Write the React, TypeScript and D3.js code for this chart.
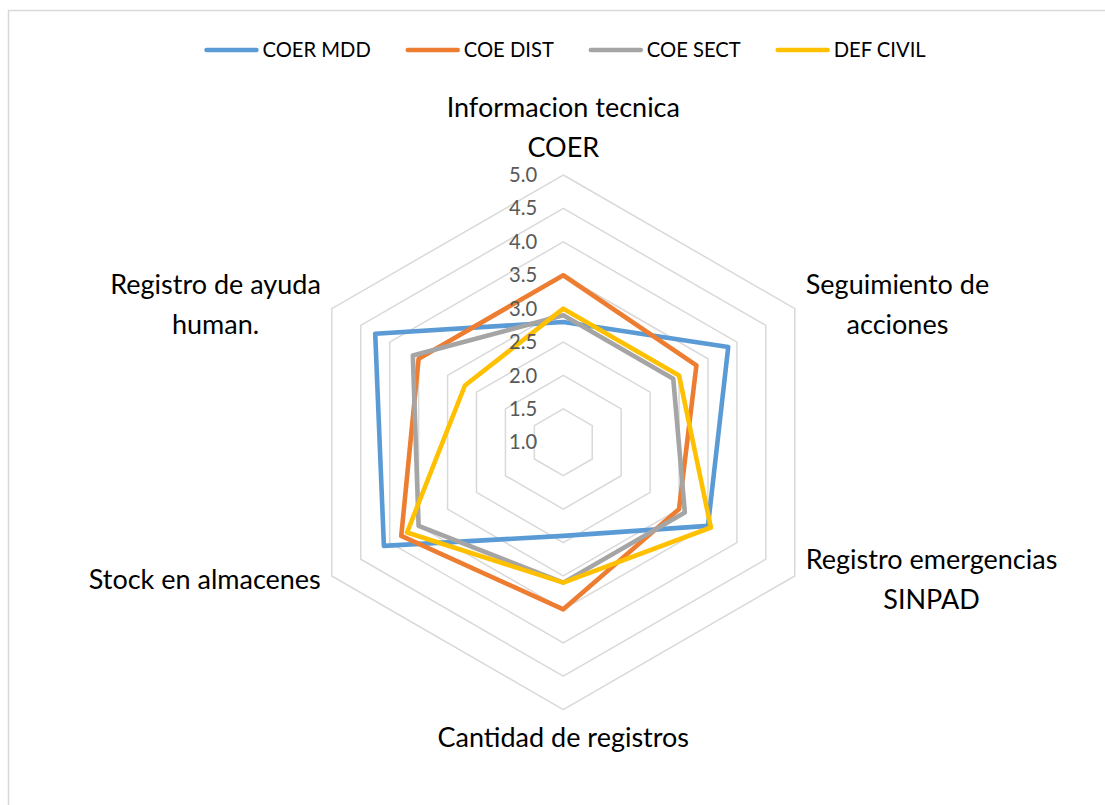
import React from "react";
import * as d3 from "d3";

const categories: string[][] = [
  ["Informacion tecnica", "COER"],
  ["Seguimiento de", "acciones"],
  ["Registro emergencias", "SINPAD"],
  ["Cantidad de registros"],
  ["Stock en almacenes"],
  ["Registro de ayuda", "human."],
];

const seriesNames = ["COER MDD", "COE DIST", "COE SECT", "DEF CIVIL"];
const seriesColors = ["#5B9BD5", "#ED7D31", "#A5A5A5", "#FFC000"];

const coerMdd = [2.8, 3.85, 3.5, 2.4, 4.1, 4.25];
const coeDist = [3.5, 3.3, 3.0, 3.5, 3.8, 3.5];
const coeSect = [2.9, 2.9, 3.1, 3.1, 3.5, 3.6];
const defCivil = [3.0, 3.0, 3.55, 3.1, 3.7, 2.7];

const seriesValues = [coerMdd, coeDist, coeSect, defCivil];

const tickValues = [1.0, 1.5, 2.0, 2.5, 3.0, 3.5, 4.0, 4.5, 5.0];

const W = 1105;
const H = 805;
const CX = 563.3;
const CY = 442.3;
const R = 267.3;
const FONT = "Lato, 'Open Sans', sans-serif";
const CAT_SIZE = 27;
const LEG_SIZE = 20.2;
const TICK_SIZE = 20.2;
const LINE_H = 40;

let measureCtx: CanvasRenderingContext2D | null = null;
function textWidth(t: string, size: number): number {
  if (!measureCtx) {
    const c = document.createElement("canvas");
    measureCtx = c.getContext("2d");
  }
  if (!measureCtx) return t.length * size * 0.5;
  measureCtx.font = `${size}px Lato`;
  return measureCtx.measureText(t).width;
}

export default function App() {
  const n = categories.length;
  const rScale = d3.scaleLinear().domain([1, 5]).range([0, R]);
  const angle = (i: number) => -Math.PI / 2 + (i * 2 * Math.PI) / n;

  const radial = d3
    .lineRadial<number>()
    .angle((_, i) => (i * 2 * Math.PI) / n)
    .radius((d) => rScale(d))
    .curve(d3.curveLinearClosed);

  const gridLevels = tickValues.filter((v) => v > 1);

  // legend layout
  const lineLen = 54;
  const textGap = 4;
  const itemGap = 35;
  const widths = seriesNames.map((s) => textWidth(s, LEG_SIZE));
  const total =
    widths.reduce((a, b) => a + b, 0) + seriesNames.length * (lineLen + textGap) + (seriesNames.length - 1) * itemGap;
  let lx = CX + 2 - total / 2;
  const legendY = 50;
  const legendItems = seriesNames.map((s, i) => {
    const x0 = lx;
    lx += lineLen + textGap + widths[i] + itemGap;
    return { name: s, color: seriesColors[i], x: x0 };
  });

  const fmt = d3.format(".1f");

  return (
    <svg
      width={W}
      height={H}
      style={{ position: "absolute", left: 0, top: 0, background: "#fff" }}
      fontFamily={FONT}
    >
      <rect x={0} y={0} width={W} height={H} fill="#fff" />
      <rect x={8.5} y={10.5} width={1110} height={810} fill="none" stroke="#D9D9D9" strokeWidth={1.5} />

      {/* legend */}
      {legendItems.map((it) => (
        <g key={it.name}>
          <line
            x1={it.x + 2}
            x2={it.x + lineLen - 2}
            y1={legendY}
            y2={legendY}
            stroke={it.color}
            strokeWidth={4.5}
            strokeLinecap="round"
          />
          <text x={it.x + lineLen + textGap} y={legendY + 7} fontSize={LEG_SIZE} fill="#000">
            {it.name}
          </text>
        </g>
      ))}

      <g transform={`translate(${CX},${CY})`}>
        {gridLevels.map((v) => (
          <path
            key={v}
            d={radial(new Array(n).fill(v)) || ""}
            fill="none"
            stroke="#D9D9D9"
            strokeWidth={1.5}
          />
        ))}
        {seriesValues.map((vals, si) => (
          <path
            key={si}
            d={radial(vals) || ""}
            fill="none"
            stroke={seriesColors[si]}
            strokeWidth={4.6}
            strokeLinejoin="round"
          />
        ))}
        {tickValues.map((v) => (
          <text
            key={v}
            x={-26}
            y={-rScale(v)}
            dy="0.35em"
            textAnchor="end"
            fontSize={TICK_SIZE}
            fill="#595959"
          >
            {fmt(v)}
          </text>
        ))}
      </g>

      {/* category labels */}
      {categories.map((lines, i) => {
        const a = angle(i);
        const vx = CX + R * Math.cos(a);
        const vy = CY + R * Math.sin(a);
        const cos = Math.cos(a);
        const sin = Math.sin(a);
        if (Math.abs(cos) < 0.01) {
          if (sin < 0) {
            const lastBase = vy - 18;
            return (
              <text key={i} textAnchor="middle" fontSize={CAT_SIZE} fill="#000">
                {lines.map((l, j) => (
                  <tspan key={j} x={vx} y={lastBase - (lines.length - 1 - j) * LINE_H}>
                    {l}
                  </tspan>
                ))}
              </text>
            );
          }
          const firstBase = vy + 37;
          return (
            <text key={i} textAnchor="middle" fontSize={CAT_SIZE} fill="#000">
              {lines.map((l, j) => (
                <tspan key={j} x={vx} y={firstBase + j * LINE_H}>
                  {l}
                </tspan>
              ))}
            </text>
          );
        }
        const blockW = Math.max(...lines.map((l) => textWidth(l, CAT_SIZE)));
        const centerY = vy + sin * 8;
        const firstBase =
          lines.length === 1 ? centerY + 9.15 : centerY - 18.3 / 2 - ((lines.length - 1) * LINE_H) / 2 + 18.3;
        const midX = cos > 0 ? vx + 11 + blockW / 2 : vx - 11 - blockW / 2;
        return (
          <text key={i} textAnchor="middle" fontSize={CAT_SIZE} fill="#000">
            {lines.map((l, j) => (
              <tspan key={j} x={midX} y={firstBase + j * LINE_H}>
                {l}
              </tspan>
            ))}
          </text>
        );
      })}
    </svg>
  );
}
